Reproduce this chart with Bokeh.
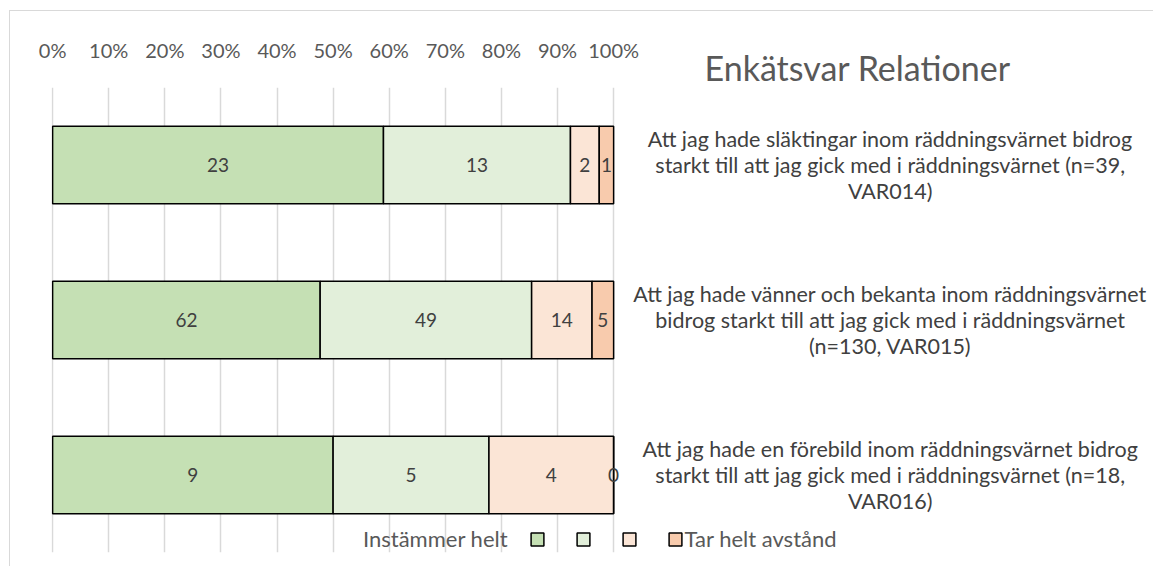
from bokeh.plotting import figure
from bokeh.models import (FactorRange, Range1d, FixedTicker, NumeralTickFormatter,
                          Legend, LegendItem, Title, ColumnDataSource, LabelSet)
from bokeh.core.properties import value
from bokeh.embed import file_html
from bokeh.resources import INLINE

# ---------------- data ----------------
categories = [
    "Att jag hade släktingar inom räddningsvärnet bidrog\nstarkt till att jag gick med i räddningsvärnet (n=39,\nVAR014)",
    "Att jag hade vänner och bekanta inom räddningsvärnet\nbidrog starkt till att jag gick med i räddningsvärnet\n(n=130, VAR015)",
    "Att jag hade en förebild inom räddningsvärnet bidrog\nstarkt till att jag gick med i räddningsvärnet (n=18,\nVAR016)",
]
legend_first = "Instämmer helt"
legend_last = "Tar helt avstånd"
instammer_helt = [23, 62, 9]
instammer_delvis = [13, 49, 5]
tar_delvis_avstand = [2, 14, 4]
tar_helt_avstand = [1, 5, 0]
x_ticks = [0, 0.1, 0.2, 0.3, 0.4, 0.5, 0.6, 0.7, 0.8, 0.9, 1.0]
title_text = "Enkätsvar Relationer"

# ---------------- styles / layout constants ----------------
colors = ["#c5e0b4", "#e2efda", "#fbe5d6", "#f8cbad"]
FONT = "Lato"
TEXT_COLOR = "#595959"
PX_PER_UNIT = 561          # pixels for 0..100 %
FRAME_W = 1102
X_START = -0.002
X_END = X_START + FRAME_W / PX_PER_UNIT
CAT_LABEL_X = 1.493        # centre of the category texts, in axis units

# ---------------- derived table ----------------
series = [instammer_helt, instammer_delvis, tar_delvis_avstand, tar_helt_avstand]
keys = ["s0", "s1", "s2", "s3"]
data = {"cat": categories}
totals = [sum(v) for v in zip(*series)]
cum = [0.0] * len(categories)
for k, s in zip(keys, series):
    frac = [v / t for v, t in zip(s, totals)]
    data[k] = frac
    data[k + "_mid"] = [c + f / 2 for c, f in zip(cum, frac)]
    data[k + "_txt"] = [str(v) for v in s]
    cum = [c + f for c, f in zip(cum, frac)]
source = ColumnDataSource(data)

# ---------------- figure ----------------
p = figure(
    y_range=FactorRange(factors=categories[::-1]),
    x_range=Range1d(X_START, X_END),
    frame_width=FRAME_W, frame_height=465,
    x_axis_location="above", y_axis_location=None,
    min_border_left=41, min_border_top=76, min_border_bottom=14, min_border_right=0,
    output_backend="svg", toolbar_location=None,
)
p.margin = (10, 0, 0, 9)
p.styles = {"border-left": "1px solid #d9d9d9", "border-top": "1px solid #d9d9d9"}
p.outline_line_color = None
p.background_fill_color = "white"
p.border_fill_color = "white"

renderers = p.hbar_stack(keys, y="cat", height=0.5, source=source,
                         fill_color=colors, line_color="black", line_width=1.5)

for k in keys:
    p.add_layout(LabelSet(x=k + "_mid", y="cat", text=k + "_txt", source=source,
                          text_align="center", text_baseline="middle",
                          text_font=value(FONT), text_font_size="19px",
                          text_color="#404040"))

# category texts to the right of the bars
cat_src = ColumnDataSource(dict(y=categories, x=[CAT_LABEL_X] * len(categories),
                                text=categories))
p.text(x="x", y="y", text="text", source=cat_src, text_align="center",
       text_baseline="middle", text_font=value(FONT), text_font_size="21.5px",
       text_color="#404040", text_line_height=1.0)

# x axis (top)
xa = p.xaxis[0]
xa.ticker = FixedTicker(ticks=x_ticks)
xa.formatter = NumeralTickFormatter(format="0%")
xa.axis_line_color = None
xa.major_tick_line_color = None
xa.major_tick_out = 0
xa.major_tick_in = 0
xa.minor_tick_line_color = None
xa.major_label_text_font = FONT
xa.major_label_text_font_size = "20px"
xa.major_label_text_color = TEXT_COLOR
xa.major_label_standoff = -17

p.xgrid.grid_line_color = "#d9d9d9"
p.xgrid.grid_line_width = 1.5
p.ygrid.visible = False

# legend
dummy = p.hbar(y=[], right=[], height=0.5, fill_alpha=0, line_alpha=0)
items = [LegendItem(label=value(legend_first), renderers=[dummy]),
         LegendItem(label=value(""), renderers=[renderers[0]]),
         LegendItem(label=value(""), renderers=[renderers[1]]),
         LegendItem(label=value(""), renderers=[renderers[2]]),
         LegendItem(label=value(legend_last), renderers=[renderers[3]])]
legend = Legend(items=items, orientation="horizontal", location=(294, 0),
                glyph_width=16, glyph_height=16, label_standoff=2, label_width=7,
                spacing=21, padding=0, margin=0, border_line_color=None,
                background_fill_alpha=0, label_text_font=FONT,
                label_text_font_size="22px", label_text_color=TEXT_COLOR)
p.add_layout(legend, "center")

# title (closest to the frame, the axis labels sit above it)
title = Title(text=title_text, align="left", offset=653, standoff=0,
              text_font=FONT, text_font_size="34px", text_font_style="normal",
              text_color=TEXT_COLOR)
p.above = [title, xa]

open("out.html", "w").write(file_html(p, INLINE))
